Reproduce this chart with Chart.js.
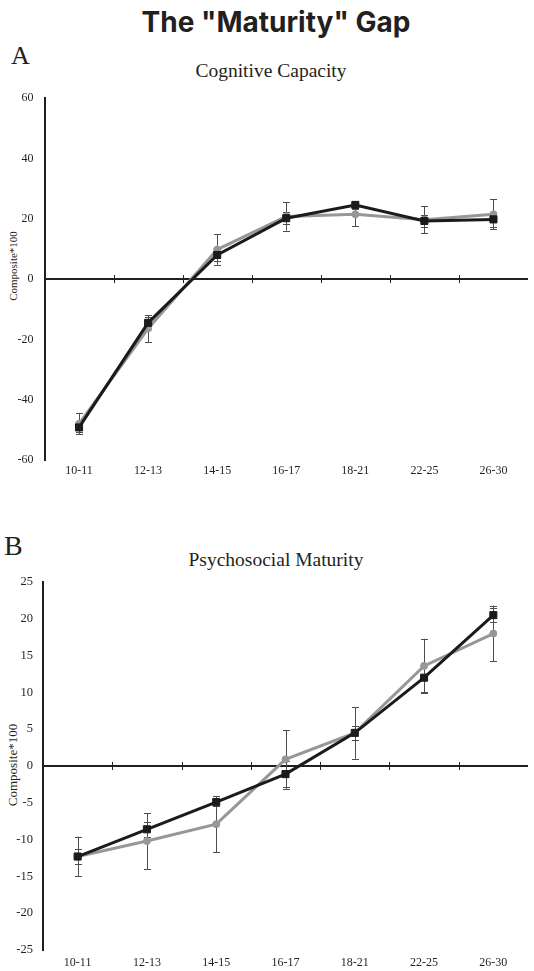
<!DOCTYPE html>
<html>
<head>
<meta charset="utf-8">
<script src="https://cdn.jsdelivr.net/npm/chart.js@4.4.1/dist/chart.umd.min.js"></script>
<style>
  html, body { margin:0; padding:0; background:#fff; }
  #wrap { position:relative; width:534px; height:971px; overflow:hidden; }
  .t { position:absolute; white-space:nowrap; color:#231f20; line-height:1; }
  canvas { position:absolute; left:0; }
</style>
</head>
<body>
<div id="wrap">
  <div class="t" style="left:0;width:552px;text-align:center;top:8px;font-family:Inter,Roboto,sans-serif;font-weight:700;font-size:28px;">The "Maturity" Gap</div>
  <div class="t" style="left:11px;top:43px;font-family:'Liberation Serif',serif;font-size:26px;">A</div>
  <div class="t" style="left:0;width:542px;text-align:center;top:61px;font-family:'Liberation Serif',serif;font-size:19.5px;">Cognitive Capacity</div>
  <div class="t" style="left:12.5px;top:266px;transform:translate(-50%,-50%) rotate(-90deg);font-family:'Liberation Serif',serif;font-size:11px;">Composite*100</div>
  <div class="t" style="left:4px;top:532px;font-family:'Liberation Serif',serif;font-size:28px;">B</div>
  <div class="t" style="left:0;width:552px;text-align:center;top:550px;font-family:'Liberation Serif',serif;font-size:19.5px;">Psychosocial Maturity</div>
  <div class="t" style="left:12px;top:765px;transform:translate(-50%,-50%) rotate(-90deg);font-family:'Liberation Serif',serif;font-size:13px;">Composite*100</div>
  <canvas id="cA" width="534" height="410" style="top:80px;"></canvas>
  <canvas id="cB" width="534" height="441" style="top:530px;"></canvas>
</div>
<script>
// ---- data ----
const categories = ['10-11','12-13','14-15','16-17','18-21','22-25','26-30'];

const cognitiveBlack    = [-49.2, -14.5, 8.0, 20.2, 24.6, 19.3, 19.8];
const cognitiveGrey     = [-48.0, -16.4, 9.8, 20.8, 21.5, 19.7, 21.5];
const cognitiveBlackErr = [1.5, 2.0, 2.0, 2.0, 1.2, 2.0, 2.5];
const cognitiveGreyErr  = [3.5, 4.5, 5.0, 4.7, 4.0, 4.5, 5.0];
const cognitiveTicks    = {min:-60, max:60, step:20};

const psychoBlack    = [-12.3, -8.6, -4.9, -1.1, 4.5, 12.0, 20.5];
const psychoGrey     = [-12.3, -10.2, -7.9, 0.9, 4.5, 13.6, 18.0];
const psychoBlackErr = [1.0, 1.0, 0.6, 1.8, 1.0, 2.0, 1.0];
const psychoGreyErr  = [2.7, 3.8, 3.8, 4.0, 3.5, 3.7, 3.8];
const psychoTicks    = {min:-25, max:25, step:5};

const BLACK = '#1c1a1b';
const GREY = '#979797';
const AXIS = '#231f20';
const ERR = '#4d4d4d';

const overlay = {
  id: 'overlay',
  beforeDatasetsDraw(chart) {
    const {ctx, chartArea: ca, scales: {x, y}} = chart;
    ctx.save();
    const y0 = y.getPixelForValue(0);
    ctx.strokeStyle = AXIS;
    ctx.lineWidth = 2;
    ctx.beginPath();
    ctx.moveTo(ca.left, y0);
    ctx.lineTo(ca.right, y0);
    ctx.stroke();
    ctx.lineWidth = 1;
    ctx.beginPath();
    for (let i = 0; i < chart.data.labels.length - 1; i++) {
      const px = Math.round(x.getPixelForValue(i + 0.5)) + 0.5;
      ctx.moveTo(px, y0 - 4);
      ctx.lineTo(px, y0 + 4);
    }
    ctx.stroke();
    // error bars
    ctx.strokeStyle = ERR;
    ctx.lineWidth = 1;
    chart.data.datasets.forEach(ds => {
      const errs = ds.errors || [];
      ds.data.forEach((v, i) => {
        const e = errs[i];
        if (!e) return;
        const px = Math.round(x.getPixelForValue(i)) + 0.5;
        const t = y.getPixelForValue(v + e);
        const b = y.getPixelForValue(v - e);
        ctx.beginPath();
        ctx.moveTo(px, t); ctx.lineTo(px, b);
        ctx.moveTo(px - 3.5, Math.round(t) + 0.5); ctx.lineTo(px + 3.5, Math.round(t) + 0.5);
        ctx.moveTo(px - 3.5, Math.round(b) + 0.5); ctx.lineTo(px + 3.5, Math.round(b) + 0.5);
        ctx.stroke();
      });
    });
    ctx.restore();
  }
};

function makeChart(id, black, blackErr, grey, greyErr, ticks, cfg) {
  return new Chart(document.getElementById(id), {
    type: 'line',
    data: {
      labels: categories,
      datasets: [
        { label: 'grey', data: grey, errors: greyErr, borderColor: GREY, backgroundColor: GREY,
          borderWidth: 3, pointStyle: 'circle', pointRadius: 3.5, pointBorderWidth: 1,
          pointBorderColor: GREY, pointBackgroundColor: GREY, tension: 0, order: 2 },
        { label: 'black', data: black, errors: blackErr, borderColor: BLACK, backgroundColor: BLACK,
          borderWidth: 3, pointStyle: 'rect', pointRadius: 5, pointBorderWidth: 1,
          pointBorderColor: BLACK, pointBackgroundColor: BLACK, tension: 0, order: 1 }
      ]
    },
    options: {
      responsive: false,
      animation: false,
      devicePixelRatio: 1,
      layout: { padding: { top: cfg.padTop, right: cfg.padRight, left: 0, bottom: 0 } },
      plugins: { legend: { display: false }, tooltip: { enabled: false }, title: { display: false } },
      scales: {
        x: {
          type: 'category',
          offset: true,
          grid: { display: false, drawTicks: false },
          border: { display: false },
          ticks: { color: AXIS, font: { family: 'Liberation Serif', size: 12 }, padding: cfg.xPad, maxRotation: 0, autoSkip: false },
          afterFit(s) { s.height = cfg.xHeight; }
        },
        y: {
          min: ticks.min, max: ticks.max,
          grid: { display: false, drawTicks: false },
          border: { display: true, color: AXIS, width: 2 },
          ticks: { stepSize: ticks.step, color: AXIS, font: { family: 'Liberation Serif', size: cfg.yFont }, padding: cfg.yPad },
          afterFit(s) { s.width = cfg.yWidth; }
        }
      }
    },
    plugins: [overlay]
  });
}

makeChart('cA', cognitiveBlack, cognitiveBlackErr, cognitiveGrey, cognitiveGreyErr, cognitiveTicks,
  { padTop: 13, padRight: 2.5, xHeight: 30, xPad: 4, yWidth: 44.5, yPad: 11, yFont: 12 });
makeChart('cB', psychoBlack, psychoBlackErr, psychoGrey, psychoGreyErr, psychoTicks,
  { padTop: 52, padRight: 3, xHeight: 21, xPad: 6, yWidth: 43, yPad: 10, yFont: 12.5 });
</script>
</body>
</html>
